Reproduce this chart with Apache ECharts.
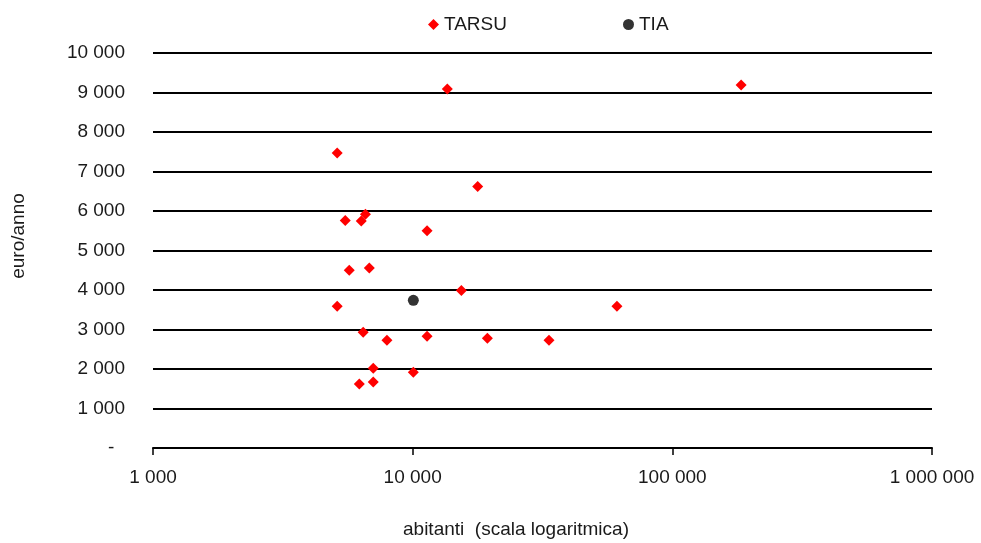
<!DOCTYPE html>
<html>
<head>
<meta charset="utf-8">
<script src="https://cdn.jsdelivr.net/npm/echarts@6/dist/echarts.min.js"></script>
<style>
  html, body { margin: 0; padding: 0; background: #fff; }
  #chart { width: 981px; height: 543px; }
</style>
</head>
<body>
<div id="chart"></div>
<script>
// Municipal waste charge per year vs. population (log scale)
var tarsuAbitanti = [5120, 17800, 5500, 6580, 6340, 11360, 5700, 6810, 15400, 5120, 61200,
                     6450, 7960, 11360, 19400, 33500, 7050, 10060, 6230, 7050, 13600, 184000];
var tarsuEuro     = [7470, 6620, 5760, 5920, 5750, 5500, 4500, 4560, 3990, 3590, 3590,
                     2930, 2730, 2830, 2780, 2730, 2020, 1920, 1620, 1670, 9090, 9190];
var tiaAbitanti = [10060];
var tiaEuro     = [3740];
var xTicks = [1000, 10000, 100000, 1000000];
var yTicks = [0, 1000, 2000, 3000, 4000, 5000, 6000, 7000, 8000, 9000, 10000];

var FONT = "'Liberation Sans', Arial, sans-serif";
var TEXT = '#1a1a1a';
var FS = 19;

function fmt(v) {
  return String(Math.round(v)).replace(/\B(?=(\d{3})+(?!\d))/g, ' ');
}

function pairs(xs, ys) {
  return xs.map(function (x, i) { return [x, ys[i]]; });
}

var chart = echarts.init(document.getElementById('chart'));
chart.setOption({
  animation: false,
  backgroundColor: '#fff',
  textStyle: { fontFamily: FONT },
  grid: {
    left: 153, right: 49, top: 53, bottom: 95,
    containLabel: false, outerBoundsMode: 'none'
  },
  legend: [
    {
      data: ['TARSU'], left: 423, top: 10, itemWidth: 11, itemHeight: 11, itemGap: 0,
      textStyle: { fontFamily: FONT, fontSize: FS, color: TEXT }
    },
    {
      data: ['TIA'], left: 618, top: 10, itemWidth: 11, itemHeight: 11, itemGap: 0,
      textStyle: { fontFamily: FONT, fontSize: FS, color: TEXT }
    }
  ],
  graphic: [
    {
      type: 'text', x: 19, y: 236, rotation: Math.PI / 2,
      style: {
        text: 'euro/anno', fontFamily: FONT, fontSize: FS, fill: TEXT,
        align: 'center', verticalAlign: 'middle'
      }
    },
    {
      type: 'text', x: 516, y: 530,
      style: {
        text: 'abitanti  (scala logaritmica)', fontFamily: FONT, fontSize: FS, fill: TEXT,
        align: 'center', verticalAlign: 'middle'
      }
    }
  ],
  xAxis: {
    type: 'log', logBase: 10, min: 1000, max: 1000000,
    axisLine: { show: true, lineStyle: { color: '#000', width: 2 } },
    axisTick: { show: true, inside: false, length: 7, lineStyle: { color: '#000', width: 1.5 } },
    axisLabel: {
      fontFamily: FONT, fontSize: FS, color: TEXT, margin: 20,
      formatter: function (v) { return fmt(v); }
    },
    splitLine: { show: false },
    minorTick: { show: false }
  },
  yAxis: {
    type: 'value', min: 0, max: 10000, interval: 1000,
    axisLine: { show: false },
    axisTick: { show: false },
    axisLabel: {
      fontFamily: FONT, fontSize: FS, color: TEXT, margin: 28,
      formatter: function (v) { return v === 0 ? '-  ' : fmt(v); }
    },
    splitLine: { show: true, lineStyle: { color: '#000', width: 2 } }
  },
  series: [
    {
      name: 'TARSU', type: 'scatter', symbol: 'diamond', symbolSize: 11,
      itemStyle: { color: '#ff0000', opacity: 1 },
      data: pairs(tarsuAbitanti, tarsuEuro)
    },
    {
      name: 'TIA', type: 'scatter', symbol: 'circle', symbolSize: 11,
      itemStyle: { color: '#333333', opacity: 1 },
      data: pairs(tiaAbitanti, tiaEuro)
    }
  ]
});
</script>
</body>
</html>
